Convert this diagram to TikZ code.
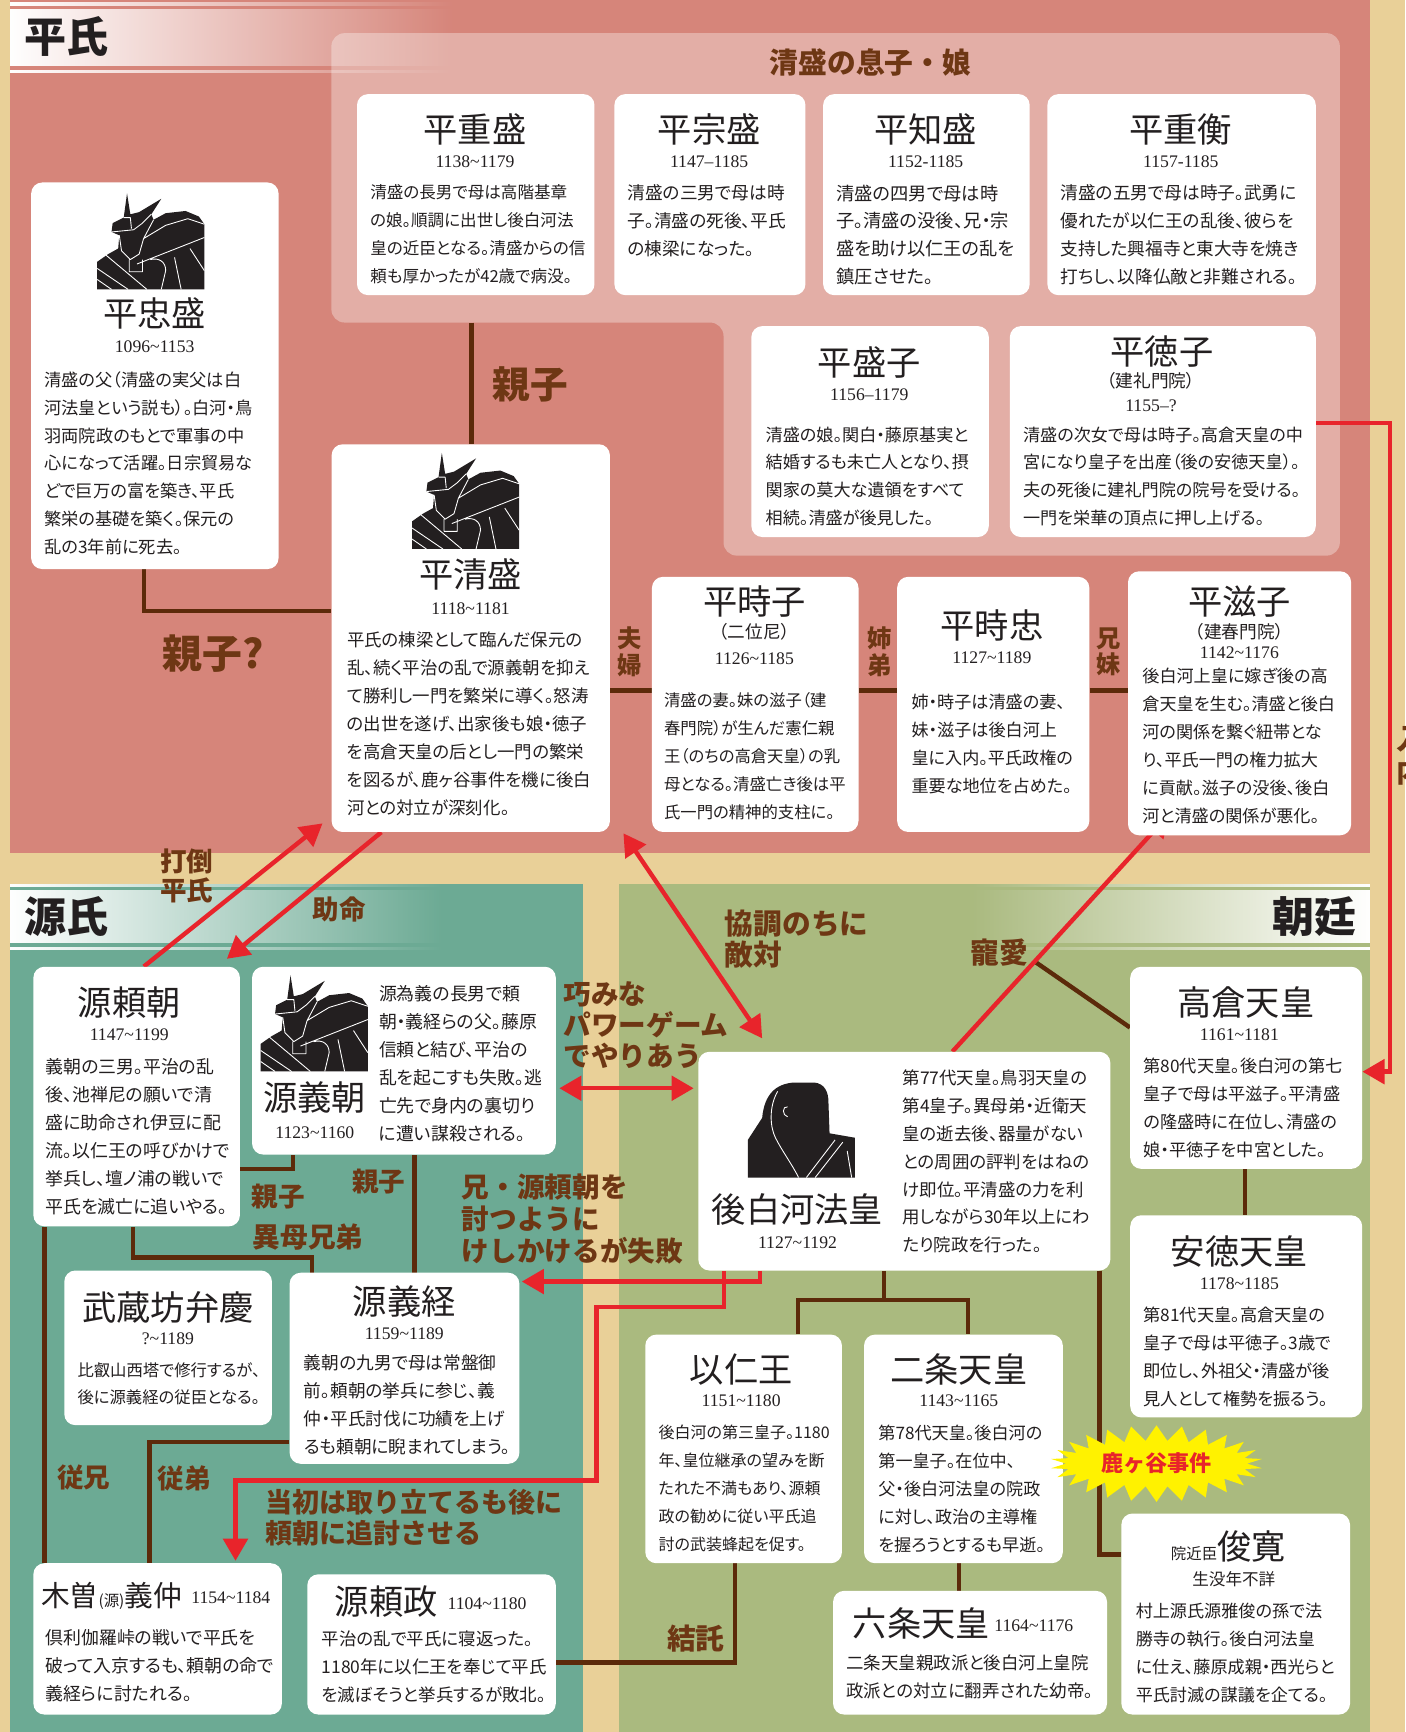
\documentclass[tikz,border=0pt]{standalone}
\usepackage{fontspec}
\usetikzlibrary{arrows.meta,shapes.symbols,fadings}
\newfontfamily\jp{Noto Sans CJK JP}
\newfontfamily\jpb{Noto Sans CJK JP}[RawFeature={+palt}]
\newfontfamily\yr{Liberation Serif}
\XeTeXlinebreaklocale "ja"
\XeTeXlinebreakskip=0pt plus 4pt\relax

\definecolor{cream}{HTML}{E9D098}
\definecolor{heipink}{HTML}{D6857A}
\definecolor{panelpink}{HTML}{E3AEA6}
\definecolor{genteal}{HTML}{6CAA94}
\definecolor{choolive}{HTML}{AABA7F}
\definecolor{kinbrown}{HTML}{5C2A0A}
\definecolor{lblbrown}{HTML}{6E3714}
\definecolor{arrred}{HTML}{E8242B}
\definecolor{ink}{HTML}{231F20}
\definecolor{burst}{HTML}{FFF200}

\pgfdeclarelayer{back}
\pgfdeclarelayer{links}
\pgfsetlayers{back,links,main}

% justified body text: \jl = full-width line, \jend = last (natural) line
\newcommand\jtext[2]{\vbox{\hsize=#1pt\relax #2}}
\newcommand\jl[1]{\hbox to\hsize{#1}}
\newcommand\jend[1]{\hbox{#1}}
\newcommand\card[5]{\node[card, minimum width={#4-#2}, minimum height={#5-#3}] (#1) at (#2,#3) {};}
% life span "a~b"
\newcommand\yrs[2]{#1{\char`\~}#2}

\tikzset{
  card/.style={fill=white, rounded corners=10pt, inner sep=0pt, anchor=north west},
  pname/.style={font=\jp\fontsize{31}{33}\selectfont, text=ink, inner sep=0pt},
  pyear/.style={font=\yr\fontsize{16}{18}\selectfont, text=ink, inner sep=0pt},
  palias/.style={font=\jpb\fontsize{16}{18}\selectfont, text=ink, inner sep=0pt},
  pbody/.style={font=\jpb\fontsize{#1}{25.3}\selectfont, text=ink, inner sep=0pt, anchor=north west},
  rel/.style 2 args={font=\jp\bfseries\fontsize{#1}{#2}\selectfont, text=lblbrown, inner sep=0pt, align=left},
  section/.style={font=\jp\bfseries\fontsize{38}{40}\selectfont, text=ink, inner sep=0pt},
  kin/.style={draw=kinbrown, line width=4pt},
  feud/.style={draw=arrred, line width=4pt, -{Triangle[length=20pt,width=22pt]}},
  feudboth/.style={draw=arrred, line width=4pt, {Triangle[length=20pt,width=22pt]}-{Triangle[length=20pt,width=22pt]}},
  samurai/.pic={
    % helmet with crest horns, face guard, shoulder armour
    \fill[ink] (0,87) -- (0,62) -- (10,55) -- (19,50) -- (20,38) -- (13,35) -- (14,27) -- (24,22)
      -- (27,0) -- (30,19) -- (38,17) -- (58,5) -- (49,19) -- (51,24) -- (62,18) -- (80,16)
      -- (92,21) -- (97,28) -- (97,87) -- cycle;
    \draw[white, line width=0.8pt, line join=round]
      (13,35) -- (33,33) -- (41,27) -- (49,19)
      (24,22) -- (30,22) -- (31,32)
      (20,38) -- (22,52) -- (30,60) -- (38,55) -- (42,41) -- (51,24)
      (42,41) -- (62,29) -- (82,23) -- (97,28)
      (36,64) -- (97,40)
      (0,68) -- (28,87)
      (0,78) -- (13,87)
      (8,56) -- (45,87)
      (29,60) -- (29,71) -- (41,71) -- (41,60)
      (48,60) .. controls (56,58) and (62,62) .. (62,70) -- (58,87)
      (70,58) -- (76,87)
      (84,50) -- (97,70);
  },
  monk/.pic={
    \fill[ink] (0,86) -- (0,52) -- (13,32) .. controls (15,10) and (26,1) .. (42,0) -- (60,0)
      .. controls (70,1) and (73,9) .. (73,18) -- (74,46) -- (97,50) -- (97,86) -- cycle;
    \draw[white, line width=0.8pt]
      (27,8) .. controls (19,22) and (20,40) .. (25,50) .. controls (31,62) and (40,74) .. (46,86);
    \draw[white, line width=0.8pt] (36,22) .. controls (31,21) and (31,30) .. (36,31);
    \draw[white, line width=0.8pt] (79,52) -- (53,86) (86,54) -- (61,86) (90,62) -- (94,86);
  },
}

\begin{document}
\begin{tikzpicture}[x=1pt,y=-1pt]
\useasboundingbox (0,0) rectangle (1272,1568);

% ---------- backgrounds ----------
\begin{pgfonlayer}{back}
  \fill[cream] (0,0) rectangle (1272,1568);
  \fill[heipink] (9,0) rectangle (1240,772);
  \fill[genteal] (9,800) rectangle (528,1568);
  \fill[choolive] (560,800) rectangle (1240,1568);
  \fill[panelpink, rounded corners=12pt] (300,30) -- (1213,30) -- (1213,503) -- (655,503)
    -- (655,292) -- (300,292) -- cycle;
  % header bands
  \fill[white, path fading=east] (9,8) rectangle (410,60);
  \fill[white, path fading=east] (9,2) rectangle (410,5);
  \fill[white, path fading=east] (9,63) rectangle (410,66);
  \fill[white, path fading=east] (9,806) rectangle (400,854);
  \fill[white, path fading=east] (9,800) rectangle (400,803);
  \fill[white, path fading=east] (9,857) rectangle (400,860);
  \fill[white, path fading=west] (880,806) rectangle (1240,854);
  \fill[white, path fading=west] (880,800) rectangle (1240,803);
  \fill[white, path fading=west] (880,857) rectangle (1240,860);
\end{pgfonlayer}

\node[section] (sec-hei) at (60,33) {平氏};
\node[section] (sec-gen) at (60,830) {源氏};
\node[section] (sec-cho) at (1190,830) {朝廷};
\coordinate (kids) at (427,292);
\node[rel={26}{28}] (lb-kids) at (788,57) {清盛の息子・娘};

% ---------- Heishi ----------
\card{tadamori}{28}{165}{252}{515}
\pic at (88,175) {samurai};
\node[pname] (tadamori-n) at (140,284) {平忠盛};
\node[pyear] (tadamori-y) at (140,314) {\yrs{1096}{1153}};
\node[pbody=15.6] (tadamori-t) at (40,336) {\jtext{200}{%
\jl{清盛の父（清盛の実父は白}\jl{河法皇という説も）。白河・鳥}\jl{羽両院政のもとで軍事の中}%
\jl{心になって活躍。日宗貿易な}\jl{どで巨万の富を築き、平氏}\jl{繁栄の基礎を築く。保元の}%
\jend{乱の3年前に死去。}}};

\card{shigemori}{323}{85}{538}{267}
\node[pname] (shigemori-n) at (430,117) {平重盛};
\node[pyear] (shigemori-y) at (430,146) {\yrs{1138}{1179}};
\node[pbody=15] (shigemori-t) at (335,167) {\jtext{192}{%
\jl{清盛の長男で母は高階基章}\jl{の娘。順調に出世し後白河法}\jl{皇の近臣となる。清盛からの信}%
\jend{頼も厚かったが42歳で病没。}}};

\card{munemori}{556}{85}{729}{267}
\node[pname] (munemori-n) at (642,117) {平宗盛};
\node[pyear] (munemori-y) at (642,146) {1147–1185};
\node[pbody=16] (munemori-t) at (568,167) {\jtext{149}{%
\jl{清盛の三男で母は時}\jl{子。清盛の死後、平氏}\jend{の棟梁になった。}}};

\card{tomomori}{745}{85}{932}{267}
\node[pname] (tomomori-n) at (838,117) {平知盛};
\node[pyear] (tomomori-y) at (838,146) {1152-1185};
\node[pbody=16.5] (tomomori-t) at (757,167) {\jtext{163}{%
\jl{清盛の四男で母は時}\jl{子。清盛の没後、兄・宗}\jl{盛を助け以仁王の乱を}\jend{鎮圧させた。}}};

\card{shigehira}{948}{85}{1191}{267}
\node[pname] (shigehira-n) at (1069,117) {平重衡};
\node[pyear] (shigehira-y) at (1069,146) {1157-1185};
\node[pbody=16] (shigehira-t) at (960,167) {\jtext{220}{%
\jl{清盛の五男で母は時子。武勇に}\jl{優れたが以仁王の乱後、彼らを}\jl{支持した興福寺と東大寺を焼き}%
\jend{打ちし、以降仏敵と非難される。}}};

\card{moriko}{680}{295}{895}{486}
\node[pname] (moriko-n) at (787,328) {平盛子};
\node[pyear] (moriko-y) at (787,357) {1156–1179};
\node[pbody=15.5] (moriko-t) at (693,386) {\jtext{190}{%
\jl{清盛の娘。関白・藤原基実と}\jl{結婚するも未亡人となり、摂}\jl{関家の莫大な遺領をすべて}\jend{相続。清盛が後見した。}}};

\card{tokuko}{914}{295}{1191}{486}
\node[pname] (tokuko-n) at (1052,318) {平徳子};
\node[palias] (tokuko-a) at (1042,345) {（建礼門院）};
\node[pyear] (tokuko-y) at (1042,367) {1155–?};
\node[pbody=15.5] (tokuko-t) at (926,386) {\jtext{254}{%
\jl{清盛の次女で母は時子。高倉天皇の中}\jl{宮になり皇子を出産（後の安徳天皇）。}%
\jl{夫の死後に建礼門院の院号を受ける。}\jend{一門を栄華の頂点に押し上げる。}}};

\card{kiyomori}{300}{402}{552}{753}
\pic at (373,410) {samurai};
\node[pname] (kiyomori-n) at (426,520) {平清盛};
\node[pyear] (kiyomori-y) at (426,551) {\yrs{1118}{1181}};
\node[pbody=15.8] (kiyomori-t) at (314,572) {\jtext{224}{%
\jl{平氏の棟梁として臨んだ保元の}\jl{乱、続く平治の乱で源義朝を抑え}\jl{て勝利し一門を繁栄に導く。怒涛}%
\jl{の出世を遂げ、出家後も娘・徳子}\jl{を高倉天皇の后とし一門の繁栄}\jl{を図るが、鹿ヶ谷事件を機に後白}%
\jend{河との対立が深刻化。}}};

\card{tokiko}{590}{522}{777}{753}
\node[pname] (tokiko-n) at (683,545) {平時子};
\node[palias] (tokiko-a) at (683,572) {（二位尼）};
\node[pyear] (tokiko-y) at (683,596) {\yrs{1126}{1185}};
\node[pbody=14.8] (tokiko-t) at (601,627) {\jtext{164}{%
\jl{清盛の妻。妹の滋子（建}\jl{春門院）が生んだ憲仁親}\jl{王（のちの高倉天皇）の乳}%
\jl{母となる。清盛亡き後は平}\jend{氏一門の精神的支柱に。}}};

\card{tokitada}{812}{522}{986}{753}
\node[pname] (tokitada-n) at (898,566) {平時忠};
\node[pyear] (tokitada-y) at (898,595) {\yrs{1127}{1189}};
\node[pbody=15.5] (tokitada-t) at (825,628) {\jtext{150}{%
\jl{姉・時子は清盛の妻、}\jl{妹・滋子は後白河上}\jl{皇に入内。平氏政権の}\jend{重要な地位を占めた。}}};

\card{shigeko}{1021}{517}{1223}{756}
\node[pname] (shigeko-n) at (1122,545) {平滋子};
\node[palias] (shigeko-a) at (1122,572) {（建春門院）};
\node[pyear] (shigeko-y) at (1122,591) {\yrs{1142}{1176}};
\node[pbody=15.5] (shigeko-t) at (1034,605) {\jtext{176}{%
\jl{後白河上皇に嫁ぎ後の高}\jl{倉天皇を生む。清盛と後白}\jl{河の関係を繋ぐ紐帯とな}%
\jl{り、平氏一門の権力拡大}\jl{に貢献。滋子の没後、後白}\jend{河と清盛の関係が悪化。}}};

% ---------- Genji ----------
\card{yoritomo}{30}{875}{217}{1110}
\node[pname] (yoritomo-n) at (117,908) {源頼朝};
\node[pyear] (yoritomo-y) at (117,937) {\yrs{1147}{1199}};
\node[pbody=16.2] (yoritomo-t) at (41,958) {\jtext{164}{%
\jl{義朝の三男。平治の乱}\jl{後、池禅尼の願いで清}\jl{盛に助命され伊豆に配}%
\jl{流。以仁王の呼びかけで}\jl{挙兵し、壇ノ浦の戦いで}\jend{平氏を滅亡に追いやる。}}};

\card{yoshitomo}{228}{875}{503}{1045}
\pic at (236,883) {samurai};
\node[pname] (yoshitomo-n) at (285,994) {源義朝};
\node[pyear] (yoshitomo-y) at (285,1025) {\yrs{1123}{1160}};
\node[pbody=16.2] (yoshitomo-t) at (343,892) {\jtext{150}{%
\jl{源為義の長男で頼}\jl{朝・義経らの父。藤原}\jl{信頼と結び、平治の}%
\jl{乱を起こすも失敗。逃}\jl{亡先で身内の裏切り}\jend{に遭い謀殺される。}}};

\card{benkei}{58}{1150}{246}{1290}
\node[pname] (benkei-n) at (152,1184) {武蔵坊弁慶};
\node[pyear] (benkei-y) at (152,1212) {?{\char`\~}1189};
\node[pbody=14.8] (benkei-t) at (70,1233) {\jtext{166}{%
\jl{比叡山西塔で修行するが、}\jend{後に源義経の従臣となる。}}};

\card{yoshitsune}{262}{1152}{470}{1325}
\node[pname] (yoshitsune-n) at (366,1178) {源義経};
\node[pyear] (yoshitsune-y) at (366,1207) {\yrs{1159}{1189}};
\node[pbody=16] (yoshitsune-t) at (275,1226) {\jtext{182}{%
\jl{義朝の九男で母は常盤御}\jl{前。頼朝の挙兵に参じ、義}\jl{仲・平氏討伐に功績を上げ}%
\jend{るも頼朝に睨まれてしまう。}}};

\card{yoshinaka}{30}{1415}{255}{1552}
\node[font=\jp, text=ink, inner sep=0pt, anchor=west] (yoshinaka-n) at (37,1445)
  {{\fontsize{26}{28}\selectfont 木曽}{\fontsize{14}{16}\selectfont(源)}{\fontsize{26}{28}\selectfont 義仲}};
\node[pyear, anchor=west] (yoshinaka-y) at (173,1446) {\yrs{1154}{1184}};
\node[pbody=16.2] (yoshinaka-t) at (41,1475) {\jtext{204}{%
\jl{倶利伽羅峠の戦いで平氏を}\jl{破って入京するも、頼朝の命で}\jend{義経らに討たれる。}}};

\card{yorimasa}{278}{1425}{503}{1552}
\node[pname, anchor=west] (yorimasa-n) at (303,1450) {源頼政};
\node[pyear, anchor=west] (yorimasa-y) at (405,1452) {\yrs{1104}{1180}};
\node[pbody=15.8] (yorimasa-t) at (291,1476) {\jtext{204}{%
\jl{平治の乱で平氏に寝返った。}\jl{1180年に以仁王を奉じて平氏}\jend{を滅ぼそうと挙兵するが敗北。}}};

% ---------- Chotei ----------
\card{goshirakawa}{632}{952}{1005}{1150}
\pic at (677,980) {monk};
\node[pname] (goshirakawa-n) at (722,1095) {後白河法皇};
\node[pyear] (goshirakawa-y) at (722,1125) {\yrs{1127}{1192}};
\node[pbody=15.8] (goshirakawa-t) at (817,968) {\jtext{173}{%
\jl{第77代天皇。鳥羽天皇の}\jl{第4皇子。異母弟・近衛天}\jl{皇の逝去後、器量がない}%
\jl{との周囲の評判をはねの}\jl{け即位。平清盛の力を利}\jl{用しながら30年以上にわ}%
\jend{たり院政を行った。}}};

\card{takakura}{1023}{875}{1233}{1058}
\node[pname] (takakura-n) at (1128,908) {高倉天皇};
\node[pyear] (takakura-y) at (1122,937) {\yrs{1161}{1181}};
\node[pbody=15.6] (takakura-t) at (1035,958) {\jtext{185}{%
\jl{第80代天皇。後白河の第七}\jl{皇子で母は平滋子。平清盛}\jl{の隆盛時に在位し、清盛の}%
\jend{娘・平徳子を中宮とした。}}};

\card{antoku}{1023}{1100}{1233}{1283}
\node[pname] (antoku-n) at (1122,1133) {安徳天皇};
\node[pyear] (antoku-y) at (1122,1162) {\yrs{1178}{1185}};
\node[pbody=15.6] (antoku-t) at (1035,1183) {\jtext{185}{%
\jl{第81代天皇。高倉天皇の}\jl{皇子で母は平徳子。3歳で}\jl{即位し、外祖父・清盛が後}%
\jend{見人として権勢を振るう。}}};

\card{mochihito}{584}{1208}{762}{1415}
\node[pname] (mochihito-n) at (671,1240) {以仁王};
\node[pyear] (mochihito-y) at (671,1268) {\yrs{1151}{1180}};
\node[pbody=14.5] (mochihito-t) at (596,1290) {\jtext{154}{%
\jl{後白河の第三皇子。1180}\jl{年、皇位継承の望みを断}\jl{たれた不満もあり、源頼}%
\jl{政の勧めに従い平氏追}\jend{討の武装蜂起を促す。}}};

\card{nijo}{782}{1208}{962}{1415}
\node[pname] (nijo-n) at (868,1240) {二条天皇};
\node[pyear] (nijo-y) at (868,1268) {\yrs{1143}{1165}};
\node[pbody=15.5] (nijo-t) at (795,1290) {\jtext{155}{%
\jl{第78代天皇。後白河の}\jl{第一皇子。在位中、}\jl{父・後白河法皇の院政}%
\jl{に対し、政治の主導権}\jend{を握ろうとするも早逝。}}};

\card{rokujo}{754}{1440}{1002}{1552}
\node[pname, anchor=west] (rokujo-n) at (772,1470) {六条天皇};
\node[pyear, anchor=west] (rokujo-y) at (900,1472) {\yrs{1164}{1176}};
\node[pbody=15.8] (rokujo-t) at (766,1498) {\jtext{224}{%
\jl{二条天皇親政派と後白河上皇院}\jend{政派との対立に翻弄された幼帝。}}};

\card{shunkan}{1015}{1370}{1222}{1552}
\node[font=\jp, text=ink, inner sep=0pt] (shunkan-n) at (1112,1400)
  {{\fontsize{14}{16}\selectfont 院近臣}{\fontsize{31}{33}\selectfont 俊寛}};
\node[font=\jp\fontsize{15}{17}\selectfont, text=ink, inner sep=0pt] (shunkan-y) at (1117,1430) {生没年不詳};
\node[pbody=15.5] (shunkan-t) at (1028,1451) {\jtext{182}{%
\jl{村上源氏源雅俊の孫で法}\jl{勝寺の執行。後白河法皇}\jl{に仕え、藤原成親・西光らと}%
\jend{平氏討滅の謀議を企てる。}}};

% ---------- kinship lines ----------
\begin{pgfonlayer}{links}
  \draw[kin] (kids) -- (kids |- kiyomori.north);
  \draw[kin] ([xshift=-10pt]tadamori.south) |- ([yshift=24.5pt]kiyomori.west);
  \draw[kin] ([yshift=-47.5pt]kiyomori.east) -- ([yshift=12.5pt]tokiko.west);
  \draw[kin] ([yshift=12.5pt]tokiko.east) -- ([yshift=12.5pt]tokitada.west);
  \draw[kin] ([yshift=12.5pt]tokitada.east) -- ([yshift=11.5pt]shigeko.west);

  \draw[kin] ([xshift=-100.5pt]yoshitomo.south) |- ([yshift=-65.5pt]yoritomo.east);
  \draw[kin] ([xshift=9.5pt]yoshitomo.south) -- ([xshift=9pt]yoshitsune.north);
  \draw[kin] ([xshift=-3.5pt]yoritomo.south) -- ++(0,28) -| ([xshift=-84pt]yoshitsune.north);
  \draw[kin] ([xshift=-83.5pt]yoritomo.south) -- ([xshift=-83.5pt]yoritomo.south |- yoshinaka.north);
  \draw[kin] ([yshift=-66.5pt]yoshitsune.west) -| ([xshift=-7.5pt]yoshinaka.north);
  \draw[kin] ([yshift=-16.5pt]yorimasa.east) -| ([xshift=-8pt]mochihito.south);

  \draw[kin] ([xshift=-18.5pt]goshirakawa.south) -- ++(0,27);
  \draw[kin] ([xshift=49pt]mochihito.north) -- ++(0,-31) -| ([xshift=4pt]nijo.north);
  \draw[kin] ([xshift=-4pt]nijo.south) -- ([xshift=-4pt]nijo.south |- rokujo.north);
  \draw[kin] ([xshift=-10pt]goshirakawa.south east) |- ([yshift=54pt]shunkan.west);
  \draw[kin] ([xshift=-1pt]takakura.south) -- ([xshift=-1pt]antoku.north);

  \path ([xshift=43.5pt]goshirakawa.north) -- coordinate[pos=0.38] (choai) ([xshift=-64pt,yshift=19pt]shigeko.south);
  \draw[kin] (choai) -- ([yshift=36.5pt]takakura.west);

  % ---------- conflict / favour arrows ----------
  \draw[feud] ([xshift=6.5pt]yoritomo.north) -- ([xshift=-8pt,yshift=8pt]kiyomori.south west);
  \draw[feud] ([xshift=-81pt]kiyomori.south) -- ([xshift=-12pt,yshift=7pt]yoritomo.north east);
  \draw[feudboth] ([xshift=12pt,yshift=-1pt]kiyomori.south east) -- ([xshift=58pt,yshift=12pt]goshirakawa.north west);
  \draw[feud] ([xshift=43.5pt]goshirakawa.north) -- ([xshift=-64pt,yshift=19pt]shigeko.south);
  \draw[feudboth] ([xshift=3pt,yshift=-25pt]yoshitomo.east) -- ([xshift=-4pt,yshift=66pt]goshirakawa.west);
  \draw[feud] ([xshift=-130.5pt]goshirakawa.south) |- ([xshift=2pt,yshift=78.5pt]yoshitsune.east);
  \draw[feud] ([xshift=-163.5pt]goshirakawa.south) -- ++(0,33) -| ++(-115,157) -| ([xshift=70.5pt,yshift=2pt]yoshinaka.north);
  \draw[feud] ([yshift=7.5pt]tokuko.east) -- ++(67,0) |- ([yshift=-3.5pt]takakura.east);
\end{pgfonlayer}

% ---------- relation labels ----------
\node[rel={34}{36}] (lb-oyako1) at (480,348) {親子};
\node[rel={36}{38}] (lb-oyako2) at (193,592) {親子?};
\node[rel={22}{24}, align=center] (lb-fufu) at (570,590) {夫\\婦};
\node[rel={22}{24}, align=center] (lb-shitei) at (796,590) {姉\\弟};
\node[rel={22}{24}, align=center] (lb-kyomai) at (1004,590) {兄\\妹};
\node[rel={26}{30}, align=center] (lb-judai) at (1277,684) {入\\内};
\node[rel={24}{26}, align=center] (lb-datou) at (169,793) {打倒\\平氏};
\node[rel={24}{26}] (lb-jomei) at (307,823) {助命};
\node[rel={26}{28}, anchor=west] (lb-kyocho) at (656,850) {協調のちに\\敵対};
\node[rel={26}{28}] (lb-choai) at (905,862) {寵愛};
\node[rel={25}{28}, anchor=west] (lb-power) at (510,928) {巧みな\\パワーゲーム\\でやりあう};
\node[rel={25}{29}, anchor=west] (lb-keshi) at (418,1104) {兄・源頼朝を\\討つように\\けしかけるが失敗};
\node[rel={24}{26}] (lb-oyako3) at (252,1083) {親子};
\node[rel={25}{27}] (lb-ibo) at (279,1120) {異母兄弟};
\node[rel={24}{26}] (lb-oyako4) at (343,1070) {親子};
\node[rel={24}{26}] (lb-juke) at (76,1338) {従兄};
\node[rel={24}{26}] (lb-jutei) at (167,1338) {従弟};
\node[rel={24.5}{28}, anchor=west] (lb-tsuito) at (240,1374) {当初は取り立てるも後に\\頼朝に追討させる};
\node[rel={26}{28}] (lb-kettaku) at (630,1483) {結託};

\node[starburst, starburst points=26, starburst point height=14pt, random starburst=0,
      fill=burst, draw=none, inner xsep=8pt, inner ysep=5pt, text=arrred,
      font=\jp\bfseries\fontsize{20}{22}\selectfont] (shishi) at (1047,1325) {鹿ヶ谷事件};
\end{tikzpicture}
\end{document}
